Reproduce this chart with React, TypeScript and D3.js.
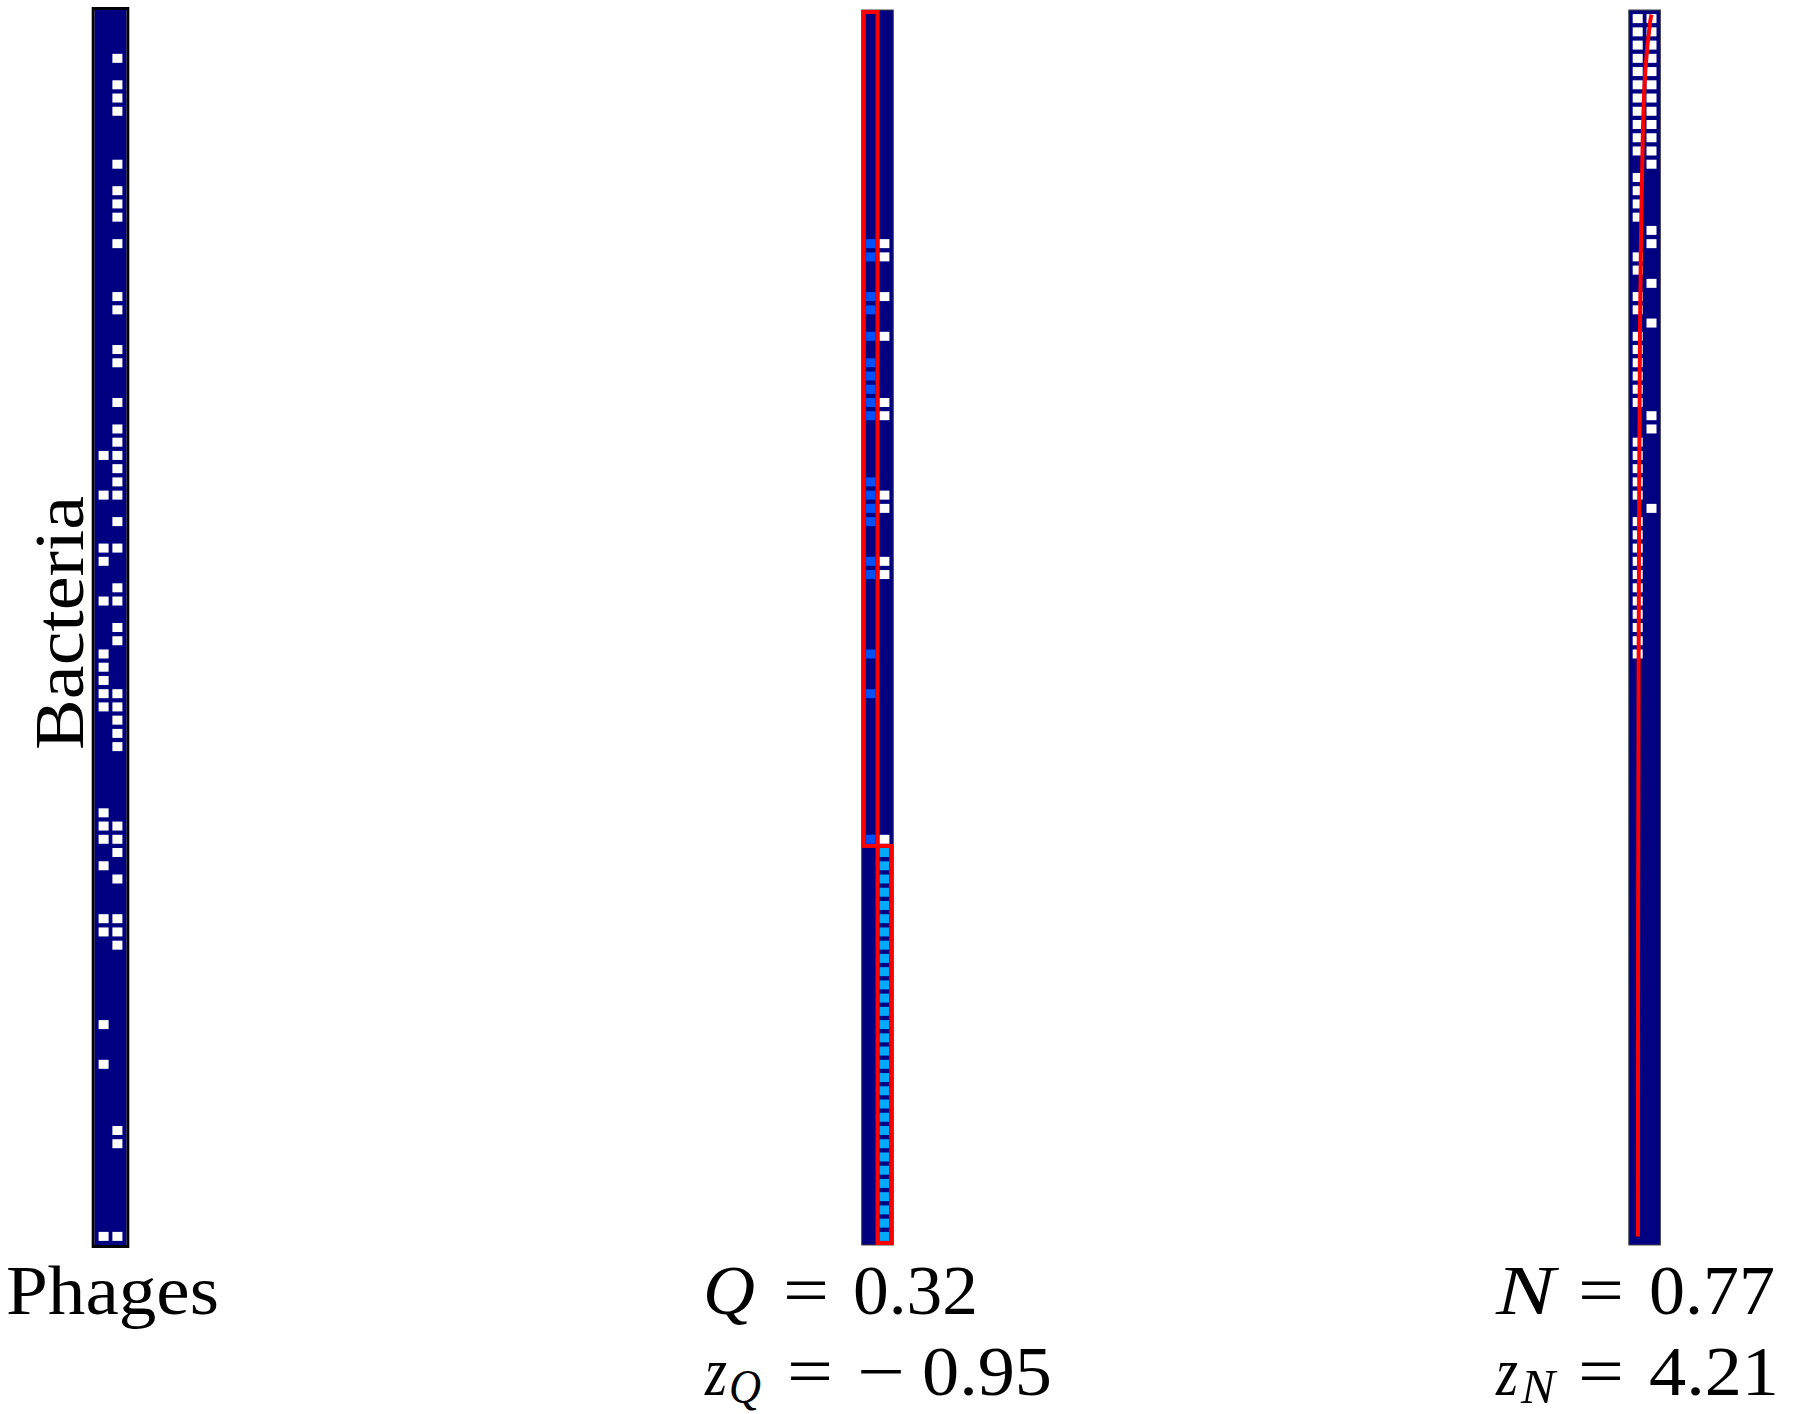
import React from 'react';
import * as d3 from 'd3';

// ---------------- DATA ----------------
const N_BACTERIA = 93;
const phageNames = ['Phage A', 'Phage B'];

// Panel 1: original ordering (row indices of interacting bacteria per phage column)
const origCol0Rows = [33, 36, 40, 41, 44, 48, 49, 50, 51, 52, 60, 61, 62, 64, 68, 69, 76, 79, 92];
const origCol1Rows = [3, 5, 6, 7, 11, 13, 14, 15, 17, 21, 22, 25, 26, 29, 31, 32, 33, 34, 35, 36, 38, 40, 43, 44, 46, 47, 51, 52, 53, 54, 55, 61, 62, 63, 65, 68, 69, 70, 84, 85, 92];

// Panel 2: modular ordering
const moduleRowStart = [0, 63];
const moduleRowEnd = [63, 93];
const moduleCol = [0, 1];
const moduleColors = ['#0050ff', '#00aaff'];
const modCol0Rows = [17, 18, 21, 22, 24, 26, 27, 28, 29, 30, 35, 36, 37, 38, 41, 42, 48, 51, 62];
const modCol1Rows = [17, 18, 21, 24, 29, 30, 36, 37, 41, 42, 62,
  63, 64, 65, 66, 67, 68, 69, 70, 71, 72, 73, 74, 75, 76, 77, 78, 79, 80, 81, 82,
  83, 84, 85, 86, 87, 88, 89, 90, 91, 92];

// Panel 3: nested ordering
const nestCol0Rows = [0, 1, 2, 3, 4, 5, 6, 7, 8, 9, 10, 12, 13, 14, 15, 18, 19, 21, 22,
  24, 25, 26, 27, 28, 29, 32, 33, 34, 35, 36, 38, 39, 40, 41, 42, 43, 44, 45, 46, 47, 48];
const nestCol1Rows = [0, 1, 2, 3, 4, 5, 6, 7, 8, 9, 10, 11, 16, 17, 20, 23, 30, 31, 37];
// isocline of perfect nestedness (row position, column position)
const isoRow = [0.2, 0.4, 4.1, 9.1, 16.7, 23.3, 35.1, 46.7, 70.1, 92.5];
const isoCol = [1.5, 1.43, 1.02, 0.86, 0.74, 0.66, 0.61, 0.57, 0.52, 0.52];

// Labels
const yLabel = 'Bacteria';
const xLabel = 'Phages';
const qSymbol = 'Q';
const nSymbol = 'N';
const qValue = '0.32';
const zqSign = '\u2212';
const zqValue = '0.95';
const nValue = '0.77';
const znValue = '4.21';

// ---------------- LAYOUT ----------------
const W = 1808;
const H = 1414;
const BG_TOP = 10;
const BG_BOTTOM = 1245;
const CELL_TOP = 12;
const CELL_BOTTOM = 1243;
const NAVY = '#000080';
const SQ_W = 10;
const SQ_H = 9;
const FONT = '"Liberation Serif", "Times New Roman", serif';
const FS = 70;
const SUB_FS = 48;
const L1 = 1314;
const L2 = 1395;

const panelCenters = [110.5, 877.5, 1644.6];
const BG_HALF = 15.8;
const CELL_HALF = 13.8;

const yScale = d3.scaleLinear().domain([0, N_BACTERIA]).range([CELL_TOP, CELL_BOTTOM]);

function xScaleFor(c: number) {
  return d3.scaleBand<number>().domain([0, 1]).range([c - CELL_HALF, c + CELL_HALF]);
}

function Cells({ rows, col, xs, color }: { rows: number[]; col: number; xs: d3.ScaleBand<number>; color: string | ((r: number) => string) }) {
  return (
    <g>
      {rows.map((r) => {
        const cx = (xs(col) as number) + xs.bandwidth() / 2;
        const cy = (yScale(r) + yScale(r + 1)) / 2;
        const fill = typeof color === 'function' ? color(r) : color;
        return <rect key={r} x={cx - SQ_W / 2} y={cy - SQ_H / 2} width={SQ_W} height={SQ_H} fill={fill} />;
      })}
    </g>
  );
}

function T({ x, y, w, italic, size, children }: { x: number; y: number; w?: number; italic?: boolean; size?: number; children: React.ReactNode }) {
  return (
    <text x={x} y={y} fontSize={size || FS} fontStyle={italic ? 'italic' : 'normal'}
      textLength={w} lengthAdjust={w ? 'spacingAndGlyphs' : undefined}>
      {children}
    </text>
  );
}

export default function App() {
  const xs1 = xScaleFor(panelCenters[0]);
  const xs2 = xScaleFor(panelCenters[1]);
  const xs3 = xScaleFor(panelCenters[2]);

  const moduleOf = (r: number) => moduleRowStart.findIndex((s, i) => r >= s && r < moduleRowEnd[i]);
  const modColor = (col: number) => (r: number) => {
    const m = moduleOf(r);
    return moduleCol[m] === col ? moduleColors[m] : '#ffffff';
  };

  const isoLine = d3
    .line<number>()
    .x((i) => (xs3(0) as number) + isoCol[i] * xs3.bandwidth())
    .y((i) => yScale(isoRow[i]))
    .curve(d3.curveBasis);

  const bg = (c: number, thick: boolean) => (
    <g>
      {thick && (
        <rect x={c - BG_HALF - 1.5} y={BG_TOP - 1.5} width={BG_HALF * 2 + 3} height={BG_BOTTOM - BG_TOP + 3}
          fill="none" stroke="#000" strokeWidth={3} />
      )}
      <rect x={c - BG_HALF} y={BG_TOP} width={BG_HALF * 2} height={BG_BOTTOM - BG_TOP} fill={NAVY}
        stroke={thick ? 'none' : '#444'} strokeWidth={thick ? 0 : 1} />
    </g>
  );

  const moduleBoxes = moduleRowStart.map((s, i) => {
    const x0 = xs2(moduleCol[i]) as number;
    const x1 = x0 + xs2.bandwidth();
    return (
      <rect key={i} x={x0} y={yScale(s)} width={x1 - x0} height={yScale(moduleRowEnd[i]) - yScale(s)}
        fill="none" stroke="#ff0000" strokeWidth={4} />
    );
  });

  return (
    <svg width={W} height={H} style={{ position: 'absolute', left: 0, top: 0, background: '#fff' }}
      fontFamily={FONT}>
      <rect x={0} y={0} width={W} height={H} fill="#fff" />
      {/* Panel 1 */}
      {bg(panelCenters[0], true)}
      <Cells rows={origCol0Rows} col={0} xs={xs1} color="#fff" />
      <Cells rows={origCol1Rows} col={1} xs={xs1} color="#fff" />
      {/* Panel 2 */}
      {bg(panelCenters[1], false)}
      <Cells rows={modCol0Rows} col={0} xs={xs2} color={modColor(0)} />
      <Cells rows={modCol1Rows} col={1} xs={xs2} color={modColor(1)} />
      {moduleBoxes}
      {/* Panel 3 */}
      {bg(panelCenters[2], false)}
      <Cells rows={nestCol0Rows} col={0} xs={xs3} color="#fff" />
      <Cells rows={nestCol1Rows} col={1} xs={xs3} color="#fff" />
      <path d={isoLine(d3.range(isoRow.length)) || ''} fill="none" stroke="#ff0000" strokeWidth={4} />

      {/* Labels */}
      <text transform={`translate(83,623) rotate(-90)`} textAnchor="middle" fontSize={FS}
        textLength={254} lengthAdjust="spacingAndGlyphs">
        {yLabel}
      </text>
      <text x={6} y={L1} fontSize={FS} textLength={213} lengthAdjust="spacingAndGlyphs">{xLabel}</text>

      {/* Modularity */}
      <T x={703} y={L1} w={52} italic>{qSymbol}</T>
      <T x={783} y={L1} w={46}>=</T>
      <T x={853} y={L1} w={125}>{qValue}</T>

      <T x={705} y={L2} w={22} italic>z</T>
      <T x={729} y={L2 + 8} w={32} italic size={SUB_FS}>{qSymbol}</T>
      <T x={787} y={L2} w={46}>=</T>
      <T x={857} y={L2} w={48}>{zqSign}</T>
      <T x={922} y={L2} w={130}>{zqValue}</T>

      {/* Nestedness */}
      <T x={1496} y={L1} w={59} italic>{nSymbol}</T>
      <T x={1578} y={L1} w={46}>=</T>
      <T x={1649} y={L1} w={126}>{nValue}</T>

      <T x={1496} y={L2} w={22} italic>z</T>
      <T x={1521} y={L2 + 8} w={34} italic size={SUB_FS}>{nSymbol}</T>
      <T x={1578} y={L2} w={46}>=</T>
      <T x={1649} y={L2} w={130}>{znValue}</T>
    </svg>
  );
}
